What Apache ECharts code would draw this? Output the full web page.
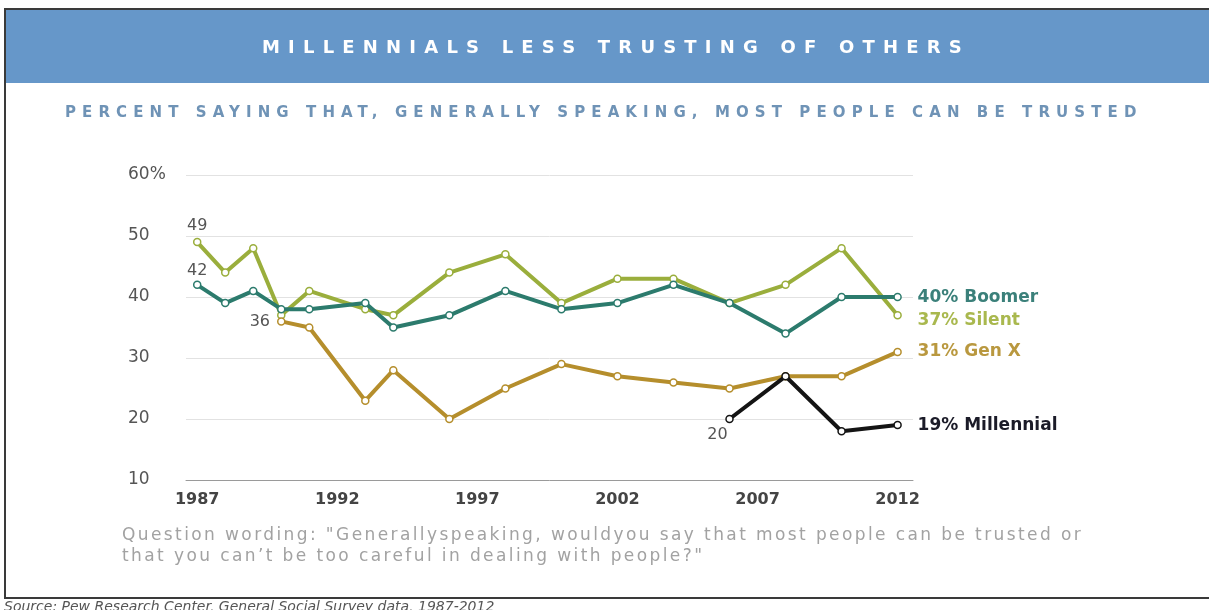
<!DOCTYPE html>
<html>
<head>
<meta charset="utf-8">
<script src="https://cdn.jsdelivr.net/npm/echarts@6/dist/echarts.min.js"></script>
<style>
  html, body { margin: 0; padding: 0; background: #fff; }
  #wrap { position: relative; width: 1209px; height: 610px; overflow: hidden; }
  #chart { position: absolute; left: 0; top: 0; width: 1209px; height: 610px; }
  .txt { position: absolute; white-space: nowrap; font-family: "DejaVu Sans", sans-serif; z-index: 5; }
  #title { left: 262px; top: 36px; font-size: 18px; font-weight: bold; letter-spacing: 8.2px; color: #fff; }
  #subtitle { left: 65px; top: 103px; font-size: 15px; font-weight: bold; letter-spacing: 6.1px; color: #6f93b6; }
  #question { left: 122px; top: 524px; font-size: 17px; line-height: 21px; letter-spacing: 2.4px; color: #a2a2a2; }
</style>
</head>
<body>
<div id="wrap">
  <div id="chart"></div>
  <div id="title" class="txt">MILLENNIALS LESS TRUSTING OF OTHERS</div>
  <div id="subtitle" class="txt">PERCENT SAYING THAT, GENERALLY SPEAKING, MOST PEOPLE CAN BE TRUSTED</div>
  <div id="question" class="txt"></div>
</div>
<script>
// ---- data ----
const years = [1987, 1988, 1989, 1990, 1991, 1993, 1994, 1996, 1998, 2000, 2002, 2004, 2006, 2008, 2010, 2012];
const silent = [49, 44, 48, 37, 41, 38, 37, 44, 47, 39, 43, 43, 39, 42, 48, 37];
const boomer = [42, 39, 41, 38, 38, 39, 35, 37, 41, 38, 39, 42, 39, 34, 40, 40];
const genXYears = [1990, 1991, 1993, 1994, 1996, 1998, 2000, 2002, 2004, 2006, 2008, 2010, 2012];
const genX = [36, 35, 23, 28, 20, 25, 29, 27, 26, 25, 27, 27, 31];
const millYears = [2006, 2008, 2010, 2012];
const millennial = [20, 27, 18, 19];
const xTickLabels = [1987, 1992, 1997, 2002, 2007, 2012];
const seriesNames = ['Silent', 'Boomer', 'Gen X', 'Millennial'];
const questionLines = [
  'Question wording: "Generallyspeaking, wouldyou say that most people can be trusted or',
  'that you can\u2019t be too careful in dealing with people?"'
];
const sourceText = 'Source: Pew Research Center, General Social Survey data, 1987-2012';

const q = document.getElementById('question');
questionLines.forEach((t, i) => { if (i) q.appendChild(document.createElement('br')); q.appendChild(document.createTextNode(t)); });

const FONT = '"DejaVu Sans", sans-serif';
const lineColors = ['#9aae3c', '#2c7b6d', '#b58e2c', '#141414'];
const labelColors = ['#a9b84e', '#3b807a', '#b9983f', '#1b1b28'];

function pairs(xs, ys) { return xs.map((x, i) => [x, ys[i]]); }

function makeSeries(idx, xs, ys, firstLabel, endOffset) {
  const data = pairs(xs, ys).map((p, i) => {
    if (i === 0 && firstLabel) {
      return { value: p, label: Object.assign({ show: true, formatter: String(p[1]),
        color: '#555', fontSize: 16, fontFamily: FONT }, firstLabel) };
    }
    return { value: p };
  });
  return {
    name: seriesNames[idx],
    type: 'line',
    data: data,
    z: 2 + idx,
    symbol: 'circle',
    symbolSize: 7,
    showAllSymbol: true,
    lineStyle: { color: lineColors[idx], width: 4 },
    itemStyle: { color: '#fff', borderColor: lineColors[idx], borderWidth: 1.5 },
    label: { show: false },
    emphasis: { disabled: true },
    endLabel: {
      show: true,
      formatter: p => p.value[1] + '% ' + seriesNames[idx],
      color: labelColors[idx],
      fontWeight: 'bold',
      fontSize: 17,
      fontFamily: FONT,
      distance: 20,
      offset: endOffset || [0, 0]
    },
    animation: false
  };
}

const chart = echarts.init(document.getElementById('chart'));
chart.setOption({
  backgroundColor: '#fff',
  animation: false,
  grid: { left: 186, right: 296, top: 175, bottom: 130 },
  xAxis: {
    type: 'value',
    min: 1986.6,
    max: 2012.55,
    axisLine: { show: true, lineStyle: { color: '#9a9a9a', width: 1 } },
    axisTick: { show: false },
    splitLine: { show: false },
    axisLabel: {
      customValues: xTickLabels,
      formatter: v => String(v),
      color: '#444',
      fontSize: 16,
      fontWeight: 'bold',
      fontFamily: FONT,
      margin: 12
    }
  },
  yAxis: {
    type: 'value',
    min: 10,
    max: 60,
    interval: 10,
    axisLine: { show: false },
    axisTick: { show: false },
    splitLine: { show: true, lineStyle: { color: '#e2e2e2', width: 1 } },
    axisLabel: {
      formatter: v => (v === 60 ? '60%' : String(v)),
      align: 'left',
      margin: 58,
      color: '#555',
      fontSize: 17,
      fontFamily: FONT
    }
  },
  series: [
    makeSeries(0, years, silent, { position: 'top', distance: 4 }, [0, 5]),
    makeSeries(1, years, boomer, { position: 'top', distance: 2 }, [0, 1]),
    makeSeries(2, genXYears, genX, { position: 'left', distance: 7 }, [0, 0]),
    makeSeries(3, millYears, millennial, { position: 'bottom', distance: 2, offset: [-12, 2] }, [0, 0])
  ],
  graphic: [
    { type: 'rect', z: 0, silent: true, shape: { x: 5, y: 9, width: 1220, height: 589 },
      style: { fill: 'none', stroke: '#3a3a3a', lineWidth: 2 } },
    { type: 'rect', z: 0, silent: true, shape: { x: 6, y: 10, width: 1210, height: 73 },
      style: { fill: '#6697c9' } },
    { type: 'text', z: 1, silent: true, x: 4, y: 600,
      style: { text: sourceText, font: 'italic 14px ' + FONT, fill: '#555' } }
  ]
});
</script>
</body>
</html>
